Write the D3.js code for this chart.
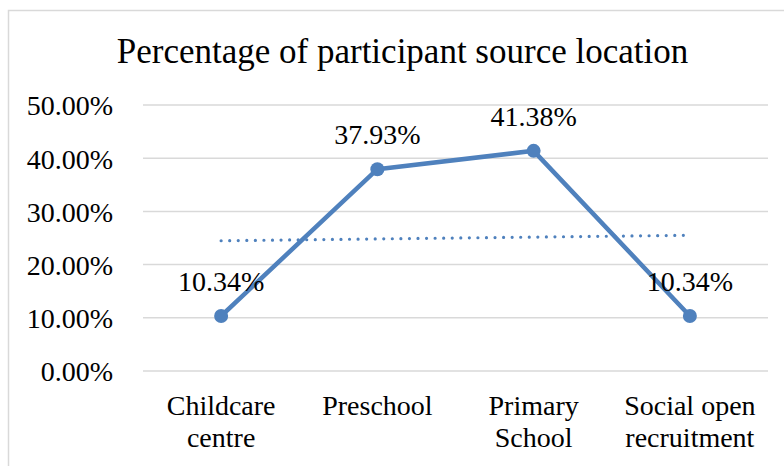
<!DOCTYPE html>
<html>
<head>
<meta charset="utf-8">
<script src="https://cdn.jsdelivr.net/npm/d3@7"></script>
<style>
  html, body { margin: 0; padding: 0; background: #fff; }
  svg { display: block; }
  text { font-family: "Liberation Serif", "Times New Roman", serif; fill: #000; }
</style>
</head>
<body>
<svg id="chart" width="784" height="466"></svg>
<script>
// Source locations of participants and their share (%)
const categories = [["Childcare", "centre"], ["Preschool"], ["Primary", "School"], ["Social open", "recruitment"]];
const values = [10.34, 37.93, 41.38, 10.34];
const tickValues = [0, 10, 20, 30, 40, 50];
const title = "Percentage of participant source location";

const svg = d3.select("#chart");
const blue = "#4f81bd";
const grid = "#d9d9d9";
const serif = "'Liberation Serif', 'Times New Roman', serif";

// Chart frame (extends past the right and bottom edges)
svg.append("rect")
  .attr("x", 8.5).attr("y", 10.5)
  .attr("width", 790).attr("height", 470)
  .attr("fill", "#fff").attr("stroke", grid).attr("stroke-width", 1.5);

const plot = { left: 143, right: 768, top: 105, bottom: 371 };

const x = d3.scaleBand()
  .domain(d3.range(categories.length))
  .range([plot.left, plot.right])
  .padding(0);
const cx = i => x(i) + x.bandwidth() / 2;

const y = d3.scaleLinear().domain([0, 50]).range([plot.bottom, plot.top]);

// Title
svg.append("text")
  .attr("x", 402.5).attr("y", 63)
  .attr("text-anchor", "middle")
  .style("font-family", serif)
  .style("font-size", "35px")
  .text(title);

// Horizontal gridlines
svg.append("g")
  .selectAll("line")
  .data(tickValues)
  .join("line")
  .attr("x1", plot.left).attr("x2", plot.right)
  .attr("y1", d => y(d)).attr("y2", d => y(d))
  .attr("stroke", grid).attr("stroke-width", 1.5);

// Y axis labels
const yAxis = d3.axisLeft(y)
  .tickValues(tickValues)
  .tickSize(0)
  .tickPadding(0)
  .tickFormat(d => d3.format(".2f")(d) + "%");
const yg = svg.append("g")
  .attr("transform", `translate(113,0)`)
  .call(yAxis)
  .attr("font-family", serif)
  .attr("font-size", 28);
yg.select(".domain").remove();
yg.selectAll("text")
  .attr("dy", "0.35em")
  .style("font-size", "28px")
  .style("font-family", serif)
  .attr("fill", "#000");

// Category labels (wrapped onto two lines)
const xg = svg.append("g");
categories.forEach((lines, i) => {
  const t = xg.append("text")
    .attr("x", cx(i)).attr("y", 415)
    .attr("text-anchor", "middle")
    .style("font-family", serif)
    .style("font-size", "28px");
  lines.forEach((ln, k) => {
    t.append("tspan").attr("x", cx(i)).attr("dy", k === 0 ? 0 : 32).text(ln);
  });
});

// Linear trendline (least squares over category index)
const n = values.length;
const xs = d3.range(1, n + 1);
const mx = d3.mean(xs), my = d3.mean(values);
const slope = d3.sum(xs.map((v, i) => (v - mx) * (values[i] - my))) / d3.sum(xs.map(v => (v - mx) ** 2));
const intercept = my - slope * mx;
svg.append("line")
  .attr("x1", cx(0)).attr("y1", y(intercept + slope * 1))
  .attr("x2", cx(n - 1)).attr("y2", y(intercept + slope * n))
  .attr("stroke", blue)
  .attr("stroke-width", 3.2)
  .attr("stroke-linecap", "round")
  .attr("stroke-dasharray", "0.01 8.55");

// Data line
const line = d3.line().x((d, i) => cx(i)).y(d => y(d));
svg.append("path")
  .datum(values)
  .attr("d", line)
  .attr("fill", "none")
  .attr("stroke", blue)
  .attr("stroke-width", 4.5)
  .attr("stroke-linejoin", "round");

// Markers
svg.append("g")
  .selectAll("circle")
  .data(values)
  .join("circle")
  .attr("cx", (d, i) => cx(i))
  .attr("cy", d => y(d))
  .attr("r", 7)
  .attr("fill", blue);

// Value labels
svg.append("g")
  .selectAll("text")
  .data(values)
  .join("text")
  .attr("x", (d, i) => cx(i))
  .attr("y", d => y(d) - 25)
  .attr("text-anchor", "middle")
  .style("font-family", serif)
  .style("font-size", "28px")
  .text(d => d3.format(".2f")(d) + "%");
</script>
</body>
</html>
